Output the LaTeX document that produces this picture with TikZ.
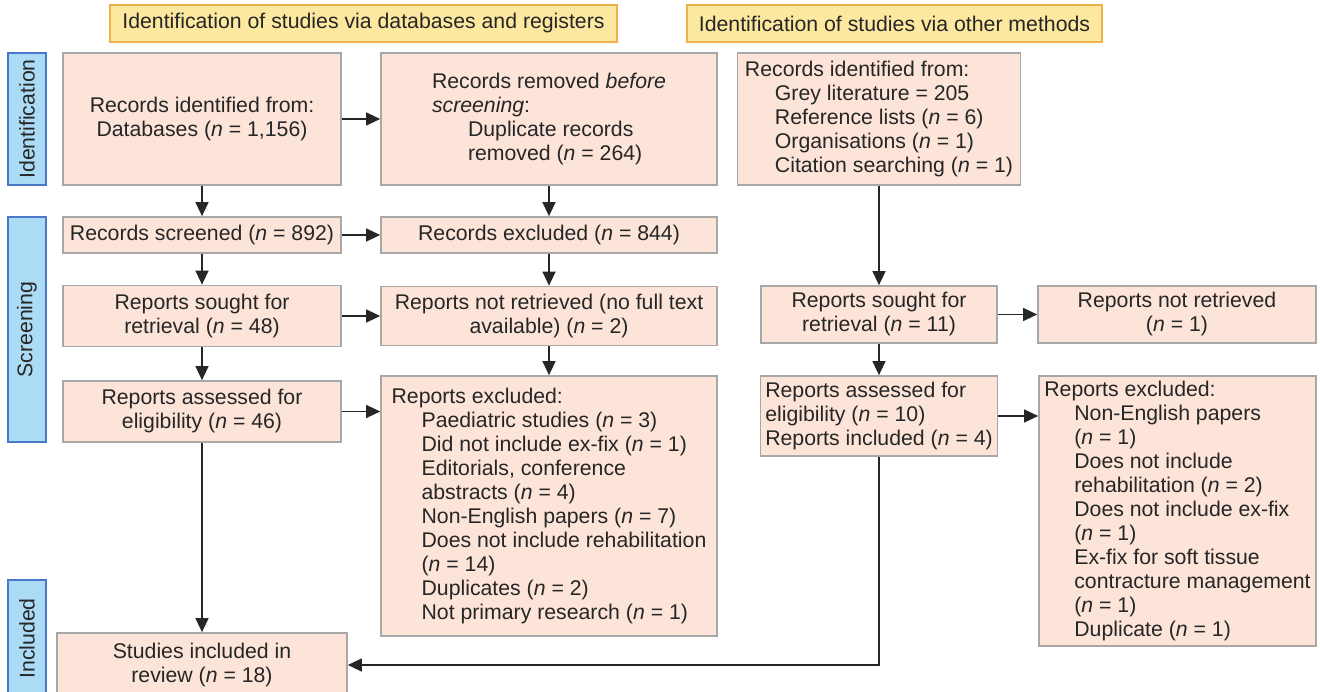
\documentclass[tikz,border=0pt]{standalone}
\usepackage{fontspec}
\setmainfont{Liberation Sans}
\usepackage{xcolor}
\usepackage{tikz}
\usetikzlibrary{arrows.meta, positioning, calc}

\definecolor{boxfill}{HTML}{FCE4D9}
\definecolor{boxline}{HTML}{A8A8A8}
\definecolor{headfill}{HTML}{FDE8A0}
\definecolor{headline}{HTML}{F0B04A}
\definecolor{stagefill}{HTML}{ABDBF5}
\definecolor{stageline}{HTML}{4A78C8}
\definecolor{ink}{HTML}{262626}

\newcommand{\ind}{\hspace*{0.6cm}}

\tikzset {
    box/.style 2 args = {
        draw = boxline,
        fill = boxfill,
        line width = 1pt,
        inner sep = 0pt,
        minimum width = #1,
        minimum height = #2,
        text = ink,
        align = center
    },
    listbox/.style 2 args = {
        box = {#1}{#2},
        align = left % Items indented with \ind
    },
    head/.style = {
        draw = headline,
        fill = headfill,
        line width = 1pt,
        inner sep = 0pt,
        minimum width = #1,
        minimum height = 0.74cm,
        text = ink
    },
    stage/.style = {
        draw = stageline,
        fill = stagefill,
        line width = 1pt,
        inner sep = 0pt,
        rotate = 90,
        minimum width = #1,
        minimum height = 0.76cm,
        text = ink
    },
    link/.style = {
        ->,
        >={Triangle[length=0.28cm, width=0.26cm]},
        line width = 0.8pt,
        draw = ink
    }
}

\begin{document}
\begin{tikzpicture}[x=0.02cm, y=-0.02cm, font=\fontsize{12.1}{13.66}\selectfont]
        \useasboundingbox (0, 0) rectangle (1320, 692);

        % Headers : databases and registers, other methods
        \node [head=10.14cm] at (363.5, 23.5)   (head1)   {Identification of studies via databases and registers};
        \node [head=8.3cm]   at (894.5, 23.5)   (head2)   {Identification of studies via other methods};

        % Stages on the left : identification, screening, included
        \node [stage=2.64cm] at (27, 119)       (stage1)  {Identification};
        \node [stage=4.5cm]  at (27, 329.5)     (stage2)  {Screening};
        \node [stage=2.34cm] at (27, 638.5)     (stage3)  {Included};

        % First row : records identified, records removed, other sources
        \node [box={5.56cm}{2.64cm}]     at (202, 119)   (rec11)  {Records identified from:\\Databases (\textit{n} = 1,156)};
        \node [listbox={6.72cm}{2.64cm}] at (549, 119)   (rec12)  {Records removed \textit{before}\\\textit{screening}:\\\hspace*{0.72cm}Duplicate records\\\hspace*{0.72cm}removed (\textit{n} = 264)};
        \node [listbox={5.66cm}{2.64cm}] at (879, 119)   (rec13)  {Records identified from:\\\ind Grey literature = 205\\\ind Reference lists (\textit{n} = 6)\\\ind Organisations (\textit{n} = 1)\\\ind Citation searching (\textit{n} = 1)};

        % Second row : screened, excluded
        \node [box={5.56cm}{0.72cm}]     at (202, 235)   (scr21)  {Records screened (\textit{n} = 892)};
        \node [box={6.72cm}{0.72cm}]     at (549, 235)   (scr22)  {Records excluded (\textit{n} = 844)};

        % Third row : sought, not retrieved (both columns)
        \node [box={5.56cm}{1.22cm}]     at (202, 316)   (rep31)  {Reports sought for\\retrieval (\textit{n} = 48)};
        \node [box={6.72cm}{1.18cm}]     at (549, 316)   (rep32)  {Reports not retrieved (no full text\\available) (\textit{n} = 2)};
        \node [box={4.72cm}{1.14cm}]     at (879, 314.5) (rep33)  {Reports sought for\\retrieval (\textit{n} = 11)};
        \node [box={5.56cm}{1.14cm}]     at (1177, 314.5) (rep34) {Reports not retrieved\\(\textit{n} = 1)};

        % Fourth row : assessed, excluded (both columns)
        \node [box={5.56cm}{1.22cm}]     at (202, 411.5) (ass41)  {Reports assessed for\\eligibility (\textit{n} = 46)};
        \node [listbox={6.72cm}{5.2cm}]  at (549, 506)   (exc42)  {Reports excluded:\\\ind Paediatric studies (\textit{n} = 3)\\\ind Did not include ex-fix (\textit{n} = 1)\\\ind Editorials, conference\\\ind abstracts (\textit{n} = 4)\\\ind Non-English papers (\textit{n} = 7)\\\ind Does not include rehabilitation\\\ind (\textit{n} = 14)\\\ind Duplicates (\textit{n} = 2)\\\ind Not primary research (\textit{n} = 1)};
        \node [listbox={4.74cm}{1.6cm}]  at (879, 416)   (ass43)  {Reports assessed for\\eligibility (\textit{n} = 10)\\Reports included (\textit{n} = 4)};
        \node [listbox={5.54cm}{5.4cm}]  at (1177.5, 511) (exc44) {Reports excluded:\\\ind Non-English papers\\\ind (\textit{n} = 1)\\\ind Does not include\\\ind rehabilitation (\textit{n} = 2)\\\ind Does not include ex-fix\\\ind (\textit{n} = 1)\\\ind Ex-fix for soft tissue\\\ind contracture management\\\ind (\textit{n} = 1)\\\ind Duplicate (\textit{n} = 1)};

        % Fifth row : studies included
        \node [box={5.8cm}{1.28cm}]      at (202, 665)   (inc51)  {Studies included in\\review (\textit{n} = 18)};

        \draw [link]  (rec11)  --  (rec12);
        \draw [link]  (rec11)  --  (scr21);
        \draw [link]  (rec12)  --  (scr22);
        \draw [link]  (rec13)  --  (rep33);

        \draw [link]  (scr21)  --  (scr22);
        \draw [link]  (scr21)  --  (rep31);
        \draw [link]  (scr22)  --  (rep32);

        \draw [link]  (rep31)  --  (rep32);
        \draw [link]  (rep31)  --  (ass41);
        \draw [link]  (rep32)  --  (exc42);
        \draw [link]  (rep33)  --  (rep34);
        \draw [link]  (rep33)  --  (ass43);

        \draw [link]  (ass41)  --  (ass41 -| exc42.west);
        \draw [link]  (ass43)  --  (ass43 -| exc44.west);
        \draw [link]  (ass41)  --  (inc51);
        \draw [link]  (ass43)  |-  (inc51);
    \end{tikzpicture}
\end{document}
